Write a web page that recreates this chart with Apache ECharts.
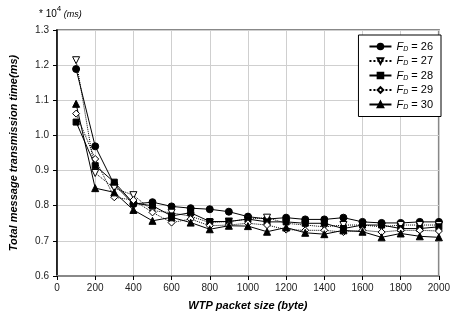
<!DOCTYPE html>
<html>
<head>
<meta charset="utf-8">
<script src="https://cdn.jsdelivr.net/npm/echarts@6/dist/echarts.min.js"></script>
<style>
  html, body { margin: 0; padding: 0; background: #fff; }
  #chart { width: 453px; height: 324px; }
</style>
</head>
<body>
<div id="chart"></div>
<script>
const packetSizes = [100, 200, 300, 400, 500, 600, 700, 800, 900, 1000,
  1100, 1200, 1300, 1400, 1500, 1600, 1700, 1800, 1900, 2000];
const fd26 = [1.189, 0.969, 0.86, 0.805, 0.81, 0.798, 0.793, 0.79, 0.783, 0.769,
  0.762, 0.766, 0.761, 0.761, 0.766, 0.754, 0.751, 0.751, 0.754, 0.754];
const fd27 = [1.214, 0.893, 0.85, 0.83, 0.786, 0.78, 0.77, 0.752, 0.755, 0.762,
  0.766, 0.75, 0.745, 0.74, 0.745, 0.745, 0.74, 0.745, 0.745, 0.745];
const fd28 = [1.038, 0.914, 0.867, 0.807, 0.8, 0.771, 0.78, 0.755, 0.755, 0.762,
  0.754, 0.754, 0.75, 0.75, 0.735, 0.745, 0.745, 0.735, 0.735, 0.74];
const fd29 = [1.062, 0.933, 0.824, 0.816, 0.781, 0.752, 0.762, 0.743, 0.745, 0.75,
  0.745, 0.732, 0.73, 0.73, 0.725, 0.73, 0.725, 0.73, 0.73, 0.728];
const fd30 = [1.09, 0.85, 0.838, 0.788, 0.757, 0.767, 0.752, 0.733, 0.743, 0.742,
  0.726, 0.738, 0.723, 0.719, 0.73, 0.726, 0.71, 0.721, 0.713, 0.71];

const FONT = 'Liberation Sans, Arial, sans-serif';

const pairs = (ys) => ys.map((y, i) => [packetSizes[i], y]);

const makeSeries = (name, ys, symbol, filled, dotted, rotate) => ({
  name: name,
  type: 'line',
  data: pairs(ys),
  symbol: symbol,
  symbolSize: symbol === 'rect' ? 6 : 7,
  symbolRotate: rotate || 0,
  showSymbol: true,
  lineStyle: { color: '#000', width: 1, type: dotted ? 'dotted' : 'solid' },
  itemStyle: { color: filled ? '#000' : '#fff', borderColor: '#000', borderWidth: 1 },
  emphasis: { disabled: true },
  animation: false,
});

const chart = echarts.init(document.getElementById('chart'));

chart.setOption({
  backgroundColor: '#fff',
  animation: false,
  grid: {
    left: 54, right: 11, top: 30, bottom: 48,
    show: true, borderColor: '#888', borderWidth: 2, backgroundColor: '#fff',
  },
  legend: {
    orient: 'vertical',
    right: 12,
    top: 35,
    width: 83,
    backgroundColor: '#fff',
    borderColor: '#000',
    borderWidth: 1,
    borderRadius: 0,
    padding: [6, 8, 6, 10],
    itemGap: 3,
    itemWidth: 22,
    itemHeight: 7,
    textStyle: {
      fontFamily: FONT, fontSize: 11, color: '#000',
      rich: {
        f: { fontFamily: FONT, fontSize: 11, fontStyle: 'italic', color: '#000' },
        d: { fontFamily: FONT, fontSize: 7, fontStyle: 'italic', color: '#000', padding: [5, 0, 0, 0] },
        n: { fontFamily: FONT, fontSize: 11, color: '#000' },
      },
    },
    formatter: (name) => '{f|F}{d|D}{n| = ' + name.split('=')[1].trim() + '}',
    data: ['FD = 26', 'FD = 27', 'FD = 28', 'FD = 29', 'FD = 30'],
  },
  xAxis: {
    type: 'value',
    min: 0, max: 2000, interval: 200,
    name: 'WTP packet size (byte)',
    nameLocation: 'middle',
    nameGap: 24,
    nameTextStyle: { fontFamily: FONT, fontSize: 11, fontWeight: 'bold', fontStyle: 'italic', color: '#000' },
    axisLine: { show: true, lineStyle: { color: '#888', width: 2 } },
    axisTick: { show: true, length: 4, lineStyle: { color: '#000' } },
    axisLabel: { fontFamily: FONT, fontSize: 10, color: '#222', margin: 7, formatter: (v) => String(v) },
    splitLine: { show: true, lineStyle: { color: '#cfcfcf', width: 1 } },
  },
  yAxis: {
    type: 'value',
    min: 0.6, max: 1.3, interval: 0.1,
    name: 'Total message transmission time(ms)',
    nameLocation: 'middle',
    nameGap: 38,
    nameTextStyle: { fontFamily: FONT, fontSize: 11, fontWeight: 'bold', fontStyle: 'italic', color: '#000' },
    axisLine: { show: true, lineStyle: { color: '#000', width: 1.5 } },
    axisTick: { show: true, length: 4, lineStyle: { color: '#000' } },
    axisLabel: {
      fontFamily: FONT, fontSize: 10, color: '#222', margin: 8,
      formatter: (v) => v.toFixed(1),
    },
    splitLine: { show: true, lineStyle: { color: '#cfcfcf', width: 1 } },
  },
  graphic: [{
    type: 'text',
    left: 39, top: 5,
    style: {
      text: '{a|* 10}{b|4}{c| (ms)}',
      rich: {
        a: { fontFamily: FONT, fontSize: 10, fill: '#000', padding: [4, 0, 0, 0] },
        b: { fontFamily: FONT, fontSize: 8, fill: '#000', padding: [0, 0, 6, 0] },
        c: { fontFamily: FONT, fontSize: 9, fontStyle: 'italic', fill: '#000', padding: [4, 0, 0, 0] },
      },
    },
  }],
  series: [
    makeSeries('FD = 26', fd26, 'circle', true, false),
    makeSeries('FD = 27', fd27, 'triangle', false, true, 180),
    makeSeries('FD = 28', fd28, 'rect', true, false),
    makeSeries('FD = 29', fd29, 'diamond', false, true),
    makeSeries('FD = 30', fd30, 'triangle', true, false),
  ],
});
</script>
</body>
</html>
